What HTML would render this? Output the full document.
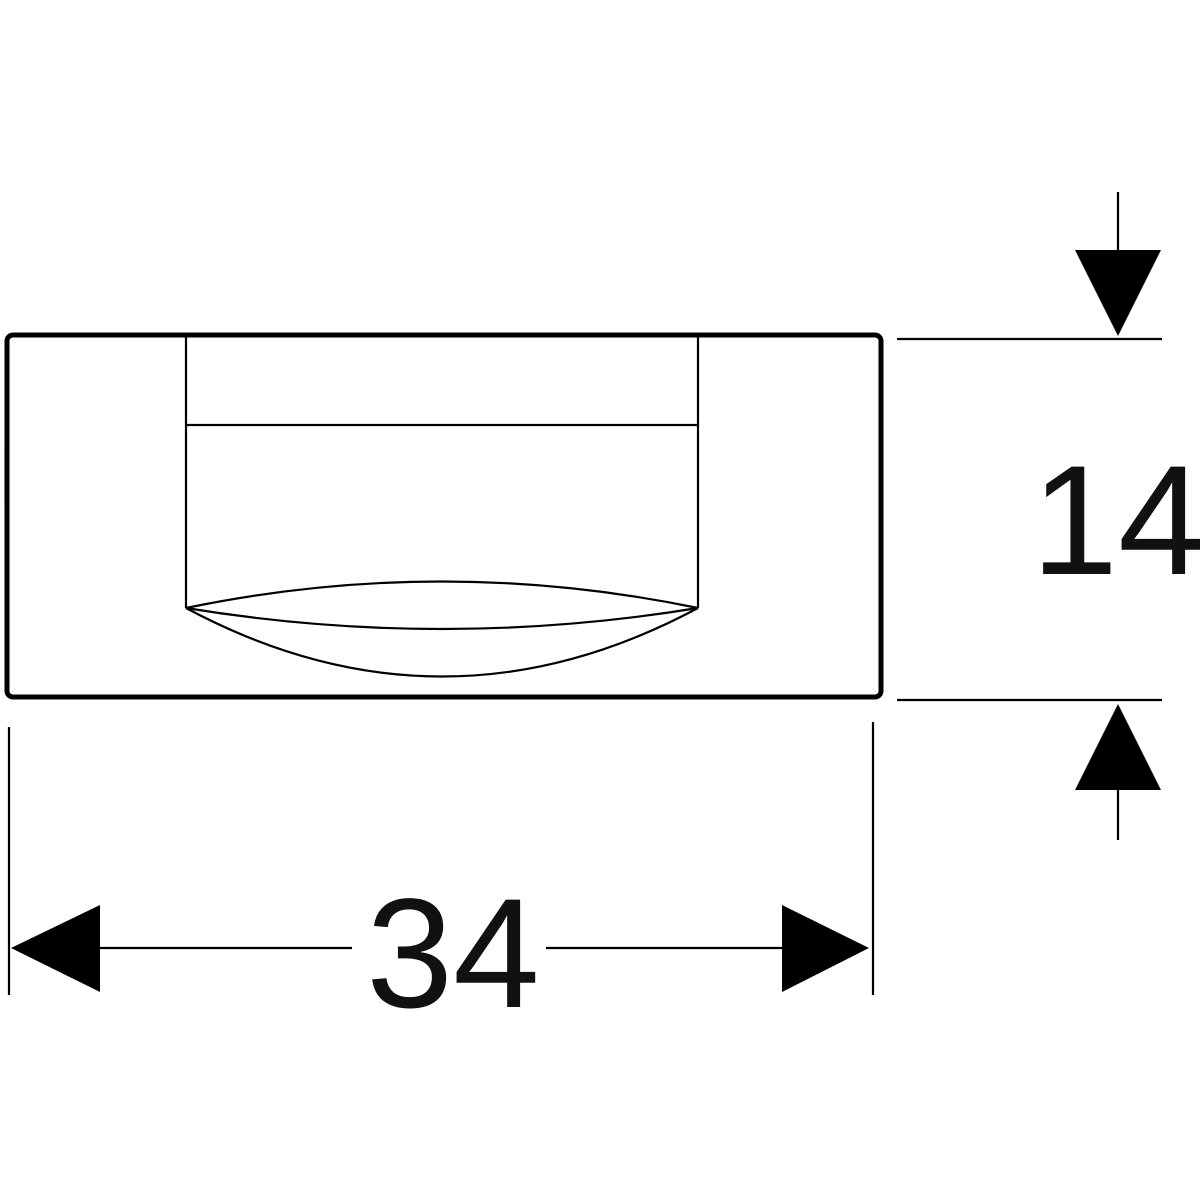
<!DOCTYPE html>
<html><head><style>html,body{margin:0;padding:0;background:#fff;width:1200px;height:1200px;overflow:hidden}</style></head>
<body>
<svg width="1200" height="1200" viewBox="0 0 1200 1200" xmlns="http://www.w3.org/2000/svg">
<rect x="7" y="335" width="874" height="362" rx="6" fill="none" stroke="#000" stroke-width="5"/>
<g fill="none" stroke="#000" stroke-width="2.2">
<line x1="186" y1="337" x2="186" y2="608"/>
<line x1="698" y1="337" x2="698" y2="608"/>
<line x1="186" y1="425" x2="698" y2="425"/>
<path d="M186 608 Q442 555 698 608"/>
<path d="M186 608 Q442 650 698 608"/>
<path d="M186 608 Q442 745 698 608"/>
<line x1="897" y1="339" x2="1162" y2="339"/>
<line x1="897" y1="700" x2="1162" y2="700"/>
<line x1="1118" y1="192" x2="1118" y2="250"/>
<line x1="1118" y1="790" x2="1118" y2="840"/>
<line x1="9" y1="727" x2="9" y2="995"/>
<line x1="873" y1="722" x2="873" y2="995"/>
<line x1="100" y1="948" x2="352" y2="948"/>
<line x1="546" y1="948" x2="782" y2="948"/>
</g>
<polygon points="1075,250 1161,250 1118,336" fill="#000"/>
<polygon points="1075,790 1161,790 1118,704" fill="#000"/>
<polygon points="11,948 100,905 100,992" fill="#000"/>
<polygon points="869,948 782,905 782,992" fill="#000"/>
<text x="1118" y="574" font-family="Liberation Sans, sans-serif" font-size="156" text-anchor="middle" fill="#111">14</text>
<text x="453" y="1007" font-family="Liberation Sans, sans-serif" font-size="156" text-anchor="middle" fill="#111">34</text>
</svg>
</body></html>
